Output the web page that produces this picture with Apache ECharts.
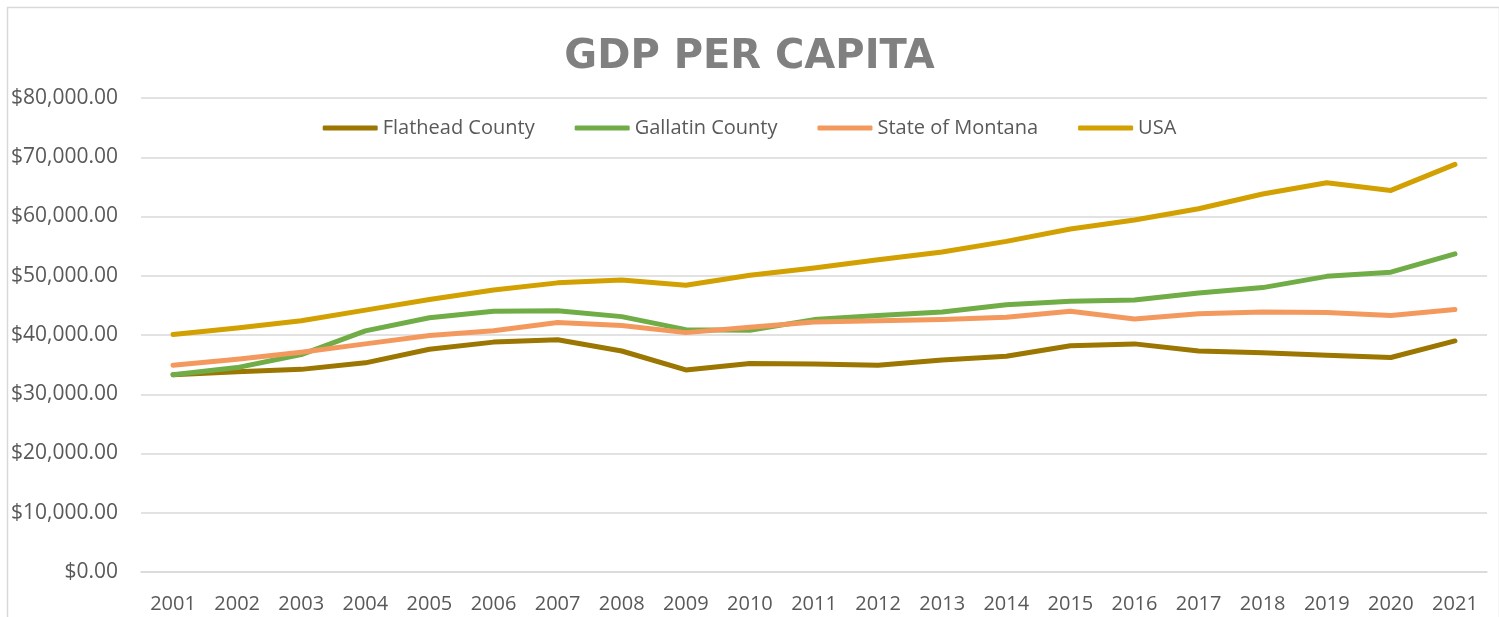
<!DOCTYPE html>
<html>
<head>
<meta charset="utf-8">
<script src="https://cdn.jsdelivr.net/npm/echarts@6/dist/echarts.min.js"></script>
<style>
  html, body { margin: 0; padding: 0; background: #fff; }
  #chart { width: 1499px; height: 617px; }
</style>
</head>
<body>
<div id="chart"></div>
<script>
// years on the x axis
const years = ['2001', '2002', '2003', '2004', '2005', '2006', '2007', '2008', '2009', '2010', '2011',
  '2012', '2013', '2014', '2015', '2016', '2017', '2018', '2019', '2020', '2021']

// GDP per capita
const flathead = [33300, 33800, 34200, 35300, 37600, 38800, 39200, 37300, 34100, 35200, 35100,
  34900, 35800, 36400, 38200, 38500, 37300, 37000, 36600, 36200, 39000]
const gallatin = [33300, 34500, 36700, 40700, 42900, 44000, 44100, 43100, 40900, 40800, 42600,
  43300, 43900, 45100, 45700, 45900, 47100, 48000, 49900, 50600, 53700]
const montana = [34900, 35900, 37100, 38500, 39900, 40700, 42100, 41600, 40400, 41300, 42200,
  42400, 42600, 43000, 44000, 42700, 43600, 43900, 43800, 43300, 44300]
const usa = [40100, 41200, 42400, 44200, 46000, 47600, 48800, 49300, 48400, 50100, 51300,
  52700, 54000, 55800, 57900, 59400, 61300, 63800, 65700, 64400, 68800]

const seriesNames = ['Flathead County', 'Gallatin County', 'State of Montana', 'USA']
const seriesColors = ['#9b7600', '#70ad47', '#f4995e', '#d2a000']
const seriesData = [flathead, gallatin, montana, usa]

const fontFamily = '"Open Sans", "Liberation Sans", sans-serif'

const chart = echarts.init(document.getElementById('chart'))

const option = {
  backgroundColor: '#fff',
  animation: false,
  title: {
    text: 'GDP PER CAPITA',
    left: 'center',
    top: 33,
    textStyle: {
      color: '#808080',
      fontSize: 40,
      fontWeight: 'bold',
      fontFamily: '"DejaVu Sans", sans-serif'
    }
  },
  legend: {
    top: 113,
    left: 'center',
    itemWidth: 55,
    itemHeight: 5,
    itemGap: 40,
    icon: 'roundRect',
    textStyle: {
      color: '#595959',
      fontSize: 20,
      fontFamily: fontFamily
    },
    data: seriesNames
  },
  grid: {
    left: 141,
    right: 12,
    top: 98,
    bottom: 45,
    containLabel: false
  },
  xAxis: {
    type: 'category',
    data: years,
    boundaryGap: true,
    axisLine: { lineStyle: { color: '#d9d9d9', width: 1.5 } },
    axisTick: { show: false },
    axisLabel: {
      color: '#595959',
      fontSize: 20,
      fontFamily: fontFamily,
      margin: 22,
      interval: 0
    }
  },
  yAxis: {
    type: 'value',
    min: 0,
    max: 80000,
    interval: 10000,
    axisLine: { show: false },
    axisTick: { show: false },
    splitLine: { lineStyle: { color: '#d9d9d9', width: 1.5 } },
    axisLabel: {
      color: '#595959',
      fontSize: 21,
      fontFamily: fontFamily,
      margin: 23,
      formatter: v => '$' + v.toLocaleString('en-US', { minimumFractionDigits: 2, maximumFractionDigits: 2 })
    }
  },
  graphic: [{
    type: 'rect',
    left: 5,
    top: 5,
    shape: { width: 1492, height: 640 },
    style: { fill: 'none', stroke: '#d9d9d9', lineWidth: 1.5 },
    silent: true
  }],
  series: seriesNames.map((name, i) => ({
    name: name,
    type: 'line',
    data: seriesData[i],
    showSymbol: false,
    symbol: 'none',
    color: seriesColors[i],
    lineStyle: { width: 5, cap: 'round', join: 'round', color: seriesColors[i] }
  }))
}

chart.setOption(option)
</script>
</body>
</html>
